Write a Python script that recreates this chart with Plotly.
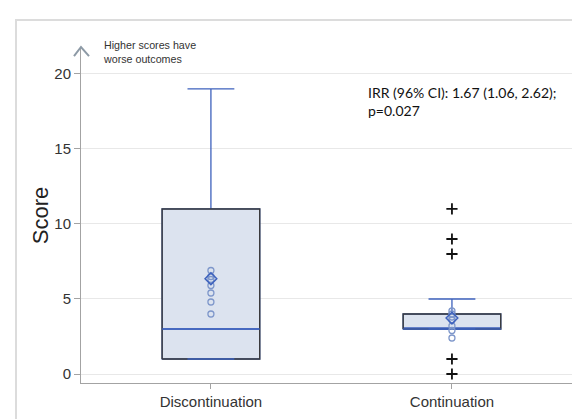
import plotly.graph_objects as go

# ---------------- data ----------------
categories = ["Discontinuation", "Continuation"]
positions = [0, 1]
q1_vals = [1, 3]
median_vals = [3, 3]
q3_vals = [11, 4]
lower_fence = [1, 3]
upper_fence = [19, 5]
mean_vals = [6.35, 3.73]

disc_points = [6.9, 6.5, 6.3, 5.9, 5.4, 4.8, 4.0]
cont_points = [4.2, 4.0, 3.8, 3.6, 3.2, 2.9, 2.4]
cont_outliers = [11, 9, 8, 1, 0]

y_ticks = [0, 5, 10, 15, 20]

note_text = "Higher scores have<br>worse outcomes"
stat_text = "IRR (96% CI): 1.67 (1.06, 2.62);<br>p=0.027"

# ---------------- styles ----------------
BOX_W = 0.405
CAP_FRAC = 0.48
BLUE = "#3e62bd"
FILL = "#dce3ef"
EDGE = "#3a3a3a"
PT = "#7d96ca"
AXIS = "#a3a3a3"

fig = go.Figure()

# boxes (blue whiskers / caps)
for i, cat in enumerate(categories):
    fig.add_trace(go.Box(
        x=[positions[i]], q1=[q1_vals[i]], median=[median_vals[i]], q3=[q3_vals[i]],
        lowerfence=[lower_fence[i]], upperfence=[upper_fence[i]],
        width=BOX_W, whiskerwidth=CAP_FRAC, fillcolor=FILL,
        line=dict(color=BLUE, width=1.3), boxpoints=False,
        hoverinfo="skip", showlegend=False,
    ))

# dark outline of each box
for i in range(len(categories)):
    x0 = positions[i] - BOX_W / 2
    x1 = positions[i] + BOX_W / 2
    fig.add_trace(go.Scatter(
        x=[x0, x1, x1, x0, x0],
        y=[q1_vals[i], q1_vals[i], q3_vals[i], q3_vals[i], q1_vals[i]],
        mode="lines", line=dict(color=EDGE, width=1.4),
        hoverinfo="skip", showlegend=False,
    ))

# blue median and lower cap over outline
for i in range(len(categories)):
    x0 = positions[i] - BOX_W / 2
    x1 = positions[i] + BOX_W / 2
    c0 = positions[i] - BOX_W * CAP_FRAC / 2
    c1 = positions[i] + BOX_W * CAP_FRAC / 2
    fig.add_trace(go.Scatter(
        x=[x0, x1, None, c0, c1],
        y=[median_vals[i], median_vals[i], None, lower_fence[i], lower_fence[i]],
        mode="lines", line=dict(color=BLUE, width=1.3),
        hoverinfo="skip", showlegend=False,
    ))

# individual points
fig.add_trace(go.Scatter(
    x=[positions[0]] * len(disc_points), y=disc_points, mode="markers",
    marker=dict(symbol="circle-open", size=6, color=PT, line=dict(width=1.3, color=PT)),
    hoverinfo="skip", showlegend=False,
))
fig.add_trace(go.Scatter(
    x=[positions[1]] * len(cont_points), y=cont_points, mode="markers",
    marker=dict(symbol="circle-open", size=6, color=PT, line=dict(width=1.3, color=PT)),
    hoverinfo="skip", showlegend=False,
))

# means
fig.add_trace(go.Scatter(
    x=positions, y=mean_vals, mode="markers",
    marker=dict(symbol="diamond-open", size=9, color=BLUE, line=dict(width=1.5, color=BLUE)),
    hoverinfo="skip", showlegend=False,
))

# outliers
fig.add_trace(go.Scatter(
    x=[positions[1]] * len(cont_outliers), y=cont_outliers, mode="markers",
    marker=dict(symbol="cross-thin", size=8, color="#111111", line=dict(width=1.8, color="#111111")),
    hoverinfo="skip", showlegend=False, cliponaxis=False,
))

fig.update_layout(
    width=580, height=419,
    margin=dict(l=73, r=3, t=40, b=44),
    paper_bgcolor="white", plot_bgcolor="white",
    font=dict(family="Liberation Sans, Arial, sans-serif", color="#333333"),
    showlegend=False,
    boxmode="overlay",
    xaxis=dict(
        range=[-0.539, 1.552], tickvals=positions, ticktext=categories,
        showgrid=False, zeroline=False, showline=True, linecolor=AXIS, linewidth=1,
        ticks="outside", ticklen=5, tickcolor=AXIS, tickfont=dict(size=15, color="#333333"),
    ),
    yaxis=dict(
        range=[-0.6, 21.73], tickvals=y_ticks,
        showgrid=True, gridcolor="#e8e8e8", gridwidth=1, zeroline=False,
        showline=True, linecolor=AXIS, linewidth=1,
        ticks="outside", ticklen=6, tickcolor=AXIS, tickfont=dict(size=15, color="#333333"),
    ),
    shapes=[
        dict(type="rect", xref="paper", yref="paper", x0=-0.129, x1=1.1, y0=-0.3, y1=1.0836,
             line=dict(color="#dcdcdc", width=2), fillcolor="rgba(0,0,0,0)", layer="below"),
        dict(type="path", xref="paper", yref="paper",
             path="M -0.0139 0.976 L 0 1.003 L 0.0159 0.976",
             line=dict(color="#8d9aa6", width=2)),
    ],
    annotations=[
        dict(text="Score", xref="paper", yref="paper", x=-0.08, y=0.5, textangle=-90,
             showarrow=False, xanchor="center", yanchor="middle",
             font=dict(size=22, color="#222222")),
        dict(text=note_text, xref="paper", yref="paper", x=0.0397, y=1.032,
             showarrow=False, xanchor="left", yanchor="top", align="left",
             font=dict(size=10.7, color="#333333")),
        dict(text=stat_text, xref="paper", yref="paper", x=0.5655, y=0.899,
             showarrow=False, xanchor="left", yanchor="top", align="left",
             font=dict(family="Lato, Liberation Sans, sans-serif", size=14, color="#111111")),
    ],
)

fig.write_html("out.html")
